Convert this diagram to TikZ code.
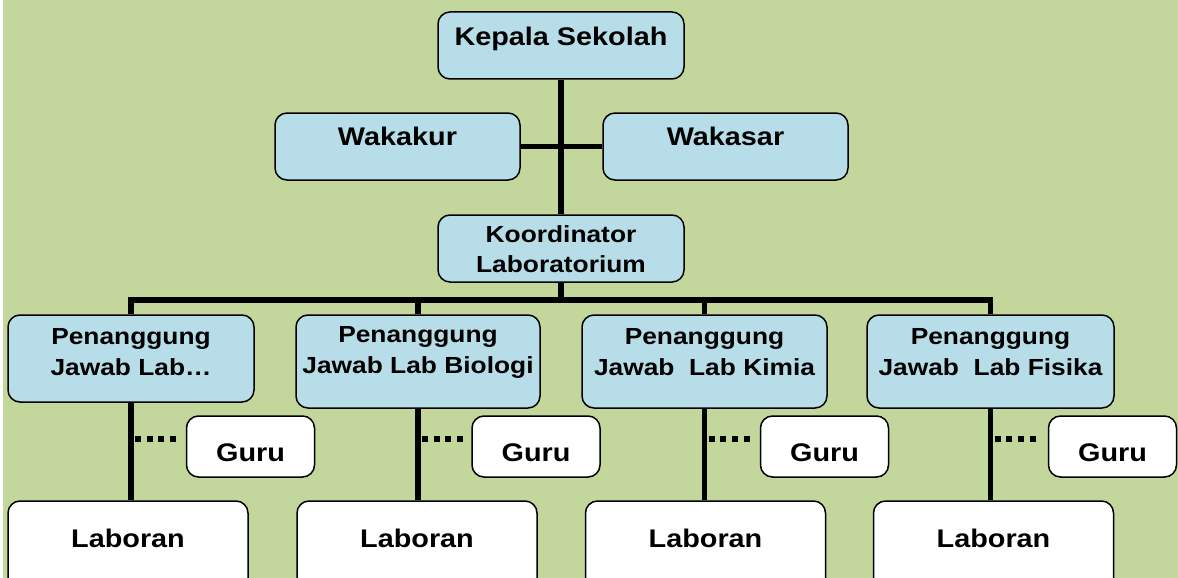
\documentclass[tikz,border=0pt]{standalone}
\usepackage{fontspec}
\newfontfamily\orgfont{Liberation Sans}[FakeStretch=1.13]
\usepackage{xcolor}
\definecolor{bggreen}{RGB}{195,214,155}
\definecolor{boxblue}{RGB}{183,222,232}
\usepackage{tikz}
\usetikzlibrary{calc}
\tikzstyle{box} = [
    rectangle, rounded corners=12pt,
    draw=black, line width=1.5pt,
    inner sep=0pt,
]
\tikzstyle{upper} = [
    box,
    fill=boxblue,
    minimum width=246pt,
    minimum height=67pt,
]
\tikzstyle{pj} = [
    box,
    fill=boxblue,
    minimum width=245pt,
    minimum height=93pt,
]
\tikzstyle{guru} = [
    box,
    fill=white,
    minimum width=128pt,
    minimum height=61pt,
]
\tikzstyle{laboran} = [
    box,
    fill=white,
    minimum width=240pt,
    minimum height=90pt,
]
\tikzstyle{txt} = [
    font=\orgfont\bfseries\fontsize{25.5}{30}\selectfont,
    text height=18.3pt, text depth=0pt, inner sep=0pt,
]
\tikzstyle{txtsmall} = [
    font=\orgfont\bfseries\fontsize{23.3}{30.5}\selectfont,
    align=center, inner sep=0pt,
]
\tikzstyle{link} = [line width=5.5pt]
\tikzstyle{dots} = [line width=6pt, dash pattern=on 6pt off 5.67pt]

\begin{document}
\begin{tikzpicture}[x=1pt, y=-1pt]
    \useasboundingbox (0,0) rectangle (1178,578);
    \clip (0,0) rectangle (1178,578);
    \fill [bggreen] (3,0) rectangle (1178,578);

    % boxes
    \node (ks) at (561, 45.5) [upper, label={[txt,yshift=9.5pt]center:Kepala Sekolah}] {};
    \node (wkur) at (397.5, 146.5) [upper, minimum width=245pt, label={[txt,yshift=10pt]center:Wakakur}] {};
    \node (wsar) at (725.5, 146.5) [upper, minimum width=245pt, label={[txt,yshift=10pt]center:Wakasar}] {};
    \node (koor) at (561, 248.5) [upper, label={[txtsmall,yshift=-0.8pt]center:Koordinator\\Laboratorium}] {};

    \node (pj1) at (131, 358.5) [pj, minimum width=246pt, minimum height=87pt,
        label={[txtsmall,yshift=6.2pt]center:Penanggung\\Jawab Lab…}] {};
    \node (pj2) at (418, 361.5) [pj, minimum width=244pt,
        label={[txtsmall,yshift=9.2pt]center:Penanggung\\Jawab Lab Biologi}] {};
    \node (pj3) at (704.5, 361.5) [pj,
        label={[txtsmall,yshift=9.2pt]center:Penanggung\\Jawab\ \ Lab Kimia}] {};
    \node (pj4) at (990.5, 361.5) [pj, minimum width=247pt,
        label={[txtsmall,yshift=9.2pt]center:Penanggung\\Jawab\ \ Lab Fisika}] {};

    \foreach \i/\x in {1/250.5, 2/536, 3/824.5, 4/1112.5}
        \node (guru\i) at (\x, 446.5) [guru, label={[txt,yshift=-6.2pt]center:Guru}] {};

    \foreach \i/\x in {1/128, 2/417, 3/705.5, 4/993.5}
        \node (lab\i) at (\x, 546) [laboran, label={[txt,yshift=7.7pt]center:Laboran}] {};

    % lines
    \draw [link] (ks.south) to (koor.north);
    \draw [link] (wkur.east) to (wsar.west);

    \foreach \i in {1,...,4} {
        \draw [link] (koor.south) -- ++(0,17) -| (pj\i.north);
        \draw [link] (pj\i.south) -- (pj\i.south |- lab\i.north);
        \draw [dots] ($(pj\i.south |- guru\i.west)+(4,-7.5)$) -- ++(41,0);
    }

\end{tikzpicture}
\end{document}
